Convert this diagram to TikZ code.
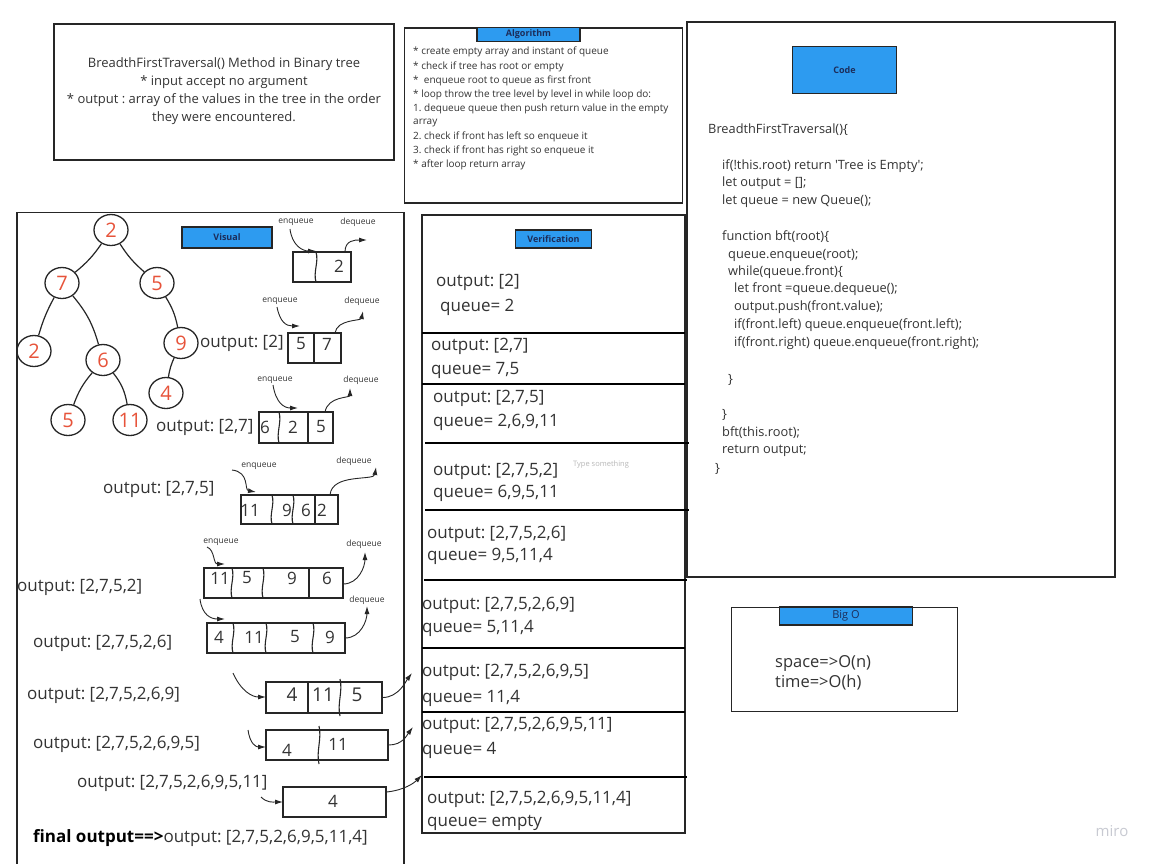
\documentclass[tikz,border=0pt]{standalone}
\usepackage{fontspec}
\setmainfont{Open Sans}
\usetikzlibrary{arrows.meta,shapes.geometric,calc}
\definecolor{linecol}{HTML}{262626}
\definecolor{textcol}{HTML}{333333}
\definecolor{bluefill}{HTML}{2D9BF0}
\definecolor{navy}{HTML}{1C2D5A}
\definecolor{treered}{HTML}{E7533A}
\definecolor{faint}{HTML}{B8B8B8}
\definecolor{mirocol}{HTML}{C8CAD2}
\newcommand{\wdiv}[3]{\draw[divline] (#1,#2) .. controls ({#1+3},{#2+(#3-#2)/3}) and ({#1-3},{#2+2*(#3-#2)/3}) .. (#1,#3);}
\newcommand{\sdiv}[3]{\draw[divline] (#1,#2) -- (#1,#3);}
\frenchspacing
\begin{document}
\begin{tikzpicture}[x=1pt,y=-1pt,
  bigbox/.style={draw=linecol,line width=1.3pt},
  titlebox/.style={draw=linecol,fill=bluefill,line width=1.1pt,inner sep=0,text=navy,font=\fontsize{9}{10}\selectfont\bfseries},
  tnode/.style={ellipse,draw=linecol,line width=1.3pt,minimum width=34pt,minimum height=31pt,inner sep=0,text=treered,font=\fontsize{20}{20}\selectfont},
  tedge/.style={draw=linecol,line width=1.2pt},
  qbox/.style={draw=linecol,line width=1.3pt,inner sep=0},
  divline/.style={draw=linecol,line width=1.1pt},
  qnum/.style={inner sep=0,text=textcol,font=\fontsize{17}{17}\selectfont},
  lab/.style={inner sep=0,text=textcol,font=\fontsize{8.5}{9}\selectfont},
  outtxt/.style={inner sep=0,anchor=west,text=textcol,font=\fontsize{17}{18}\selectfont},
  codetxt/.style={inner sep=0,anchor=west,text=textcol,font=\fontsize{12.8}{14}\selectfont},
  algtxt/.style={inner sep=0,anchor=west,text=textcol,font=\fontsize{10}{11}\selectfont},
  arr/.style={draw=linecol,line width=0.9pt,-{Latex[length=8pt,width=5pt]}},
  sep/.style={draw=black,line width=2.6pt}
]
\useasboundingbox[fill=white] (0,0) rectangle (1157,863);

% ---------- description box ----------
\node[bigbox,minimum width=340pt,minimum height=136pt] (desc) at (224,92) {};
\node[inner sep=0,align=center,text=textcol,font=\fontsize{13}{18}\selectfont] (desct) at (224,91)
  {BreadthFirstTraversal() Method in Binary tree\\* input accept no argument\\* output : array of the values in the tree in the order\\they were encountered.};

% ---------- algorithm box ----------
\node[bigbox,minimum width=278pt,minimum height=175pt] (alg) at (543.5,115.5) {};
\node[titlebox,minimum width=103pt,minimum height=13.5pt] (algt) at (528.5,34.5) {Algorithm};
\node[algtxt] (a1) at (413,51.7) {* create empty array and instant of queue};
\node[algtxt] (a2) at (413,66.7) {* check if tree has root or empty};
\node[algtxt] (a3) at (413,80.7) {*\ \ enqueue root to queue as first front};
\node[algtxt] (a4) at (413,95) {* loop throw the tree level by level in while loop do:};
\node[algtxt] (a5) at (413,109.3) {1. dequeue queue then push return value in the empty};
\node[algtxt] (a6) at (413,123) {array};
\node[algtxt] (a7) at (413,137) {2. check if front has left so enqueue it};
\node[algtxt] (a8) at (413,151) {3. check if front has right so enqueue it};
\node[algtxt] (a9) at (413,165) {* after loop return array};

% ---------- code box ----------
\node[bigbox,minimum width=428pt,minimum height=555pt] (code) at (901,299.5) {};
\node[titlebox,minimum width=104pt,minimum height=47pt] (codet) at (844.5,70) {Code};
\node[codetxt] (c1) at (708,130) {BreadthFirstTraversal()\{};
\node[codetxt] (c2) at (722,166) {if(!this.root) return \textquotesingle Tree is Empty\textquotesingle;};
\node[codetxt] (c3) at (722,183) {let output = [];};
\node[codetxt] (c4) at (722,201) {let queue = new Queue();};
\node[codetxt] (c5) at (722,237) {function bft(root)\{};
\node[codetxt] (c6) at (728,255) {queue.enqueue(root);};
\node[codetxt] (c7) at (728,272) {while(queue.front)\{};
\node[codetxt] (c8) at (734,289) {let front =queue.dequeue();};
\node[codetxt] (c9) at (734,307) {output.push(front.value);};
\node[codetxt] (c10) at (734,325) {if(front.left) queue.enqueue(front.left);};
\node[codetxt] (c11) at (734,343) {if(front.right) queue.enqueue(front.right);};
\node[codetxt] (c12) at (728,380) {\}};
\node[codetxt] (c13) at (722,415) {\}};
\node[codetxt] (c14) at (722,433) {bft(this.root);};
\node[codetxt] (c15) at (722,451) {return output;};
\node[codetxt] (c16) at (715,469) {\}};

% ---------- Big O box ----------
\node[bigbox,minimum width=226pt,minimum height=104pt] (bigo) at (844.5,659.5) {};
\node[titlebox,minimum width=133pt,minimum height=18pt,font=\fontsize{11}{12}\selectfont] (bigot) at (846,616) {Big O};
\node[outtxt,font=\fontsize{16.5}{17}\selectfont] (sp) at (775,663) {space=>O(n)};
\node[outtxt,font=\fontsize{16.5}{17}\selectfont] (tm) at (775,683) {time=>O(h)};

% ---------- visual box ----------
\draw[bigbox] (17,868) -- (17,212.5) -- (404,212.5) -- (404,868);
\node[titlebox,minimum width=90pt,minimum height=21pt] (vist) at (227,237.5) {Visual};

% tree
\node[tnode] (t2) at (111,230) {2};
\node[tnode] (t7) at (62,283) {7};
\node[tnode] (t5) at (157,283) {5};
\node[tnode] (t2b) at (34,351) {2};
\node[tnode] (t6) at (103,360) {6};
\node[tnode] (t9) at (181,343) {9};
\node[tnode] (t4) at (166,393) {4};
\node[tnode] (t5b) at (68,420) {5};
\node[tnode] (t11) at (130,420) {11};
\draw[tedge] (t2) to[bend left=8] (t7);
\draw[tedge] (t2) to[bend right=8] (t5);
\draw[tedge] (t7) to[bend right=6] (t2b);
\draw[tedge] (t7) to[bend left=12] (t6);
\draw[tedge] (t5) to[bend left=10] (t9);
\draw[tedge] (t9) to[bend right=8] (t4);
\draw[tedge] (t6) to[bend right=10] (t5b);
\draw[tedge] (t6) to[bend left=14] (t11);

% queue 1
\node[qbox,minimum width=58pt,minimum height=30pt] (q1) at (322,267) {};
\wdiv{316}{252}{282}
\node[qnum] (n11) at (339,266) {2};
\node[lab] (enq1) at (296,222) {enqueue};
\node[lab] (deq1) at (358,222) {dequeue};
\coordinate (e1s) at (290,229); \coordinate (e1e) at (316,251);
\draw[arr] (e1s) .. controls +(2,16) and +(-14,0) .. (e1e);
\coordinate (d1s) at (345,252); \coordinate (d1e) at (367,240);
\draw[arr] (d1s) .. controls +(0,-12) and +(-12,0) .. (d1e);

% queue 2
\node[outtxt] (o1) at (200,343) {output: [2]};
\node[qbox,minimum width=53pt,minimum height=30pt] (q2) at (314.5,348) {};
\sdiv{314}{333}{363}
\node[qnum] (n21) at (301,344) {5};
\node[qnum] (n22) at (327,344) {7};
\node[lab] (enq2) at (280,301) {enqueue};
\node[lab] (deq2) at (362,301) {dequeue};
\coordinate (e2s) at (277,307); \coordinate (e2e) at (300,326);
\draw[arr] (e2s) .. controls +(3,15) and +(-14,0) .. (e2e);
\coordinate (d2s) at (335,333); \coordinate (d2e) at (363,311);
\draw[arr] (d2s) .. controls +(2,-14) and +(-2,10) .. (d2e);

% queue 3
\node[outtxt] (o2) at (156,427) {output: [2,7]};
\node[qbox,minimum width=74pt,minimum height=31pt] (q3) at (296,427.5) {};
\wdiv{279}{412}{443}
\sdiv{308}{412}{443}
\node[qnum] (n31) at (265,427) {6};
\node[qnum] (n32) at (293,427) {2};
\node[qnum] (n33) at (321,427) {5};
\node[lab] (enq3) at (275,380) {enqueue};
\node[lab] (deq3) at (361,380) {dequeue};
\coordinate (e3s) at (273,385); \coordinate (e3e) at (298,408);
\draw[arr] (e3s) .. controls +(3,18) and +(-14,0) .. (e3e);
\coordinate (d3s) at (325,412); \coordinate (d3e) at (350,388);
\draw[arr] (d3s) .. controls +(3,-16) and +(0,10) .. (d3e);

% queue 4
\node[outtxt] (o3) at (103,489) {output: [2,7,5]};
\node[qbox,minimum width=97pt,minimum height=29pt] (q4) at (289.5,509.5) {};
\wdiv{272}{495}{524}
\wdiv{293}{495}{524}
\sdiv{315}{495}{524}
\node[qnum] (n41) at (250,510) {11};
\node[qnum] (n42) at (287,510) {9};
\node[qnum] (n43) at (306,510) {6};
\node[qnum] (n44) at (322,510) {2};
\node[lab] (enq4) at (259,466) {enqueue};
\node[lab] (deq4) at (354,461) {dequeue};
\coordinate (e4s) at (232,470); \coordinate (e4e) at (256,492);
\draw[arr] (e4s) .. controls +(18,2) and +(-12,-2) .. (e4e);
\coordinate (d4s) at (330,495); \coordinate (d4e) at (376,467);
\draw[arr] (d4s) .. controls +(2,-22) and +(-2,14) .. (d4e);

% queue 5
\node[outtxt] (o4) at (17,587) {output: [2,7,5,2]};
\node[qbox,minimum width=139pt,minimum height=30pt] (q5) at (273.5,583) {};
\wdiv{232}{568}{598}
\wdiv{263}{568}{598}
\sdiv{309}{568}{598}
\node[qnum] (n51) at (220,578) {11};
\node[qnum] (n52) at (247,578) {5};
\node[qnum] (n53) at (292,578) {9};
\node[qnum] (n54) at (327,578) {6};
\node[lab] (enq5) at (221,542) {enqueue};
\node[lab] (deq5) at (364,544) {dequeue};
\coordinate (e5s) at (207,547); \coordinate (e5e) at (225,564);
\draw[arr] (e5s) .. controls +(8,3) and +(-12,0) .. (e5e);
\coordinate (d5s) at (343,584); \coordinate (d5e) at (365,552);
\draw[arr] (d5s) .. controls +(16,0) and +(0,14) .. (d5e);

% queue 6
\node[outtxt] (o5) at (33,643) {output: [2,7,5,2,6]};
\node[qbox,minimum width=138pt,minimum height=30pt] (q6) at (276,638) {};
\wdiv{233}{623}{653}
\wdiv{266}{623}{653}
\wdiv{313}{623}{653}
\node[qnum] (n61) at (219,637) {4};
\node[qnum] (n62) at (254,637) {11};
\node[qnum] (n63) at (295,637) {5};
\node[qnum] (n64) at (330,637) {9};
\node[lab] (deq6) at (367,600) {dequeue};
\coordinate (e6s) at (200,599); \coordinate (e6e) at (225,619);
\draw[arr] (e6s) .. controls +(2,16) and +(-14,0) .. (e6e);
\coordinate (d6s) at (345,638); \coordinate (d6e) at (367,606);
\draw[arr] (d6s) .. controls +(16,0) and +(0,14) .. (d6e);

% queue 7
\node[outtxt] (o6) at (27,695) {output: [2,7,5,2,6,9]};
\node[qbox,minimum width=116pt,minimum height=31pt] (q7) at (324,697.5) {};
\sdiv{308}{682}{713}
\wdiv{340}{679}{716}
\node[qnum,font=\fontsize{19}{19}\selectfont] (n71) at (292,695) {4};
\node[qnum,font=\fontsize{19}{19}\selectfont] (n72) at (323,695) {11};
\node[qnum,font=\fontsize{19}{19}\selectfont] (n73) at (357,695) {5};
\coordinate (e7s) at (233,673); \coordinate (e7e) at (266,697);
\draw[arr] (e7s) .. controls +(8,18) and +(-14,0) .. (e7e);
\coordinate (r7e) at (412,673);
\draw[arr] (q7.east) .. controls +(16,0) and +(-6,8) .. (r7e);

% queue 8
\node[outtxt] (o7) at (33,744) {output: [2,7,5,2,6,9,5]};
\node[qbox,minimum width=122pt,minimum height=30pt] (q8) at (327,745) {};
\wdiv{319}{726}{764}
\node[qnum] (n81) at (287,750) {4};
\node[qnum] (n82) at (338,744) {11};
\coordinate (e8s) at (248,730); \coordinate (e8e) at (266,747);
\draw[arr] (e8s) .. controls +(2,14) and +(-10,0) .. (e8e);
\coordinate (r8e) at (413,727);
\draw[arr] (q8.east) .. controls +(14,0) and +(-6,8) .. (r8e);

% queue 9
\node[outtxt] (o8) at (77,783) {output: [2,7,5,2,6,9,5,11]};
\node[qbox,minimum width=103pt,minimum height=30pt] (q9) at (334.5,802) {};
\node[qnum] (n91) at (333,801) {4};
\coordinate (e9s) at (261,797); \coordinate (e9e) at (283,802);
\draw[arr] (e9s) .. controls +(6,6) and +(-10,0) .. (e9e);
\coordinate (r9e) at (422,775);
\draw[arr] ($(q9.east)+(0,-10)$) .. controls +(18,-2) and +(-8,8) .. (r9e);

\node[outtxt] (fin) at (33,838) {{\color{black}\bfseries final output==>}output: [2,7,5,2,6,9,5,11,4]};

% ---------- verification box ----------
\node[bigbox,minimum width=263pt,minimum height=618pt] (ver) at (553.5,524) {};
\node[titlebox,minimum width=76pt,minimum height=18pt] (vert) at (553.5,239) {Verification};
\draw[sep] (422,333) -- (685,333);
\draw[sep] (422,384) -- (685,384);
\draw[sep] (425,443) -- (689,443);
\draw[sep] (425,510) -- (689,510);
\draw[sep] (424,580) -- (687,580);
\draw[sep] (422,648) -- (685,648);
\draw[sep] (422,712) -- (685,712);
\draw[sep] (424,777) -- (687,777);
\node[outtxt] (v1a) at (436,282) {output: [2]};
\node[outtxt] (v1b) at (440,307) {queue= 2};
\node[outtxt] (v2a) at (431,346) {output: [2,7]};
\node[outtxt] (v2b) at (431,370) {queue= 7,5};
\node[outtxt] (v3a) at (433,398) {output: [2,7,5]};
\node[outtxt] (v3b) at (433,422) {queue= 2,6,9,11};
\node[outtxt] (v4a) at (433,471) {output: [2,7,5,2]};
\node[outtxt] (v4b) at (433,493) {queue= 6,9,5,11};
\node[inner sep=0,anchor=west,text=faint,font=\fontsize{7.5}{8}\selectfont] (type) at (573,465) {Type something};
\node[outtxt] (v5a) at (427,534) {output: [2,7,5,2,6]};
\node[outtxt] (v5b) at (427,556) {queue= 9,5,11,4};
\node[outtxt] (v6a) at (422,605) {output: [2,7,5,2,6,9]};
\node[outtxt] (v6b) at (422,628) {queue= 5,11,4};
\node[outtxt] (v7a) at (422,672) {output: [2,7,5,2,6,9,5]};
\node[outtxt] (v7b) at (422,698) {queue= 11,4};
\node[outtxt] (v8a) at (422,725) {output: [2,7,5,2,6,9,5,11]};
\node[outtxt] (v8b) at (422,750) {queue= 4};
\node[outtxt] (v9a) at (427,799) {output: [2,7,5,2,6,9,5,11,4]};
\node[outtxt] (v9b) at (427,823) {queue= empty};

\node[inner sep=0,text=mirocol,font=\fontsize{15}{15}\selectfont] (miro) at (1112,831) {miro};
\end{tikzpicture}
\end{document}
